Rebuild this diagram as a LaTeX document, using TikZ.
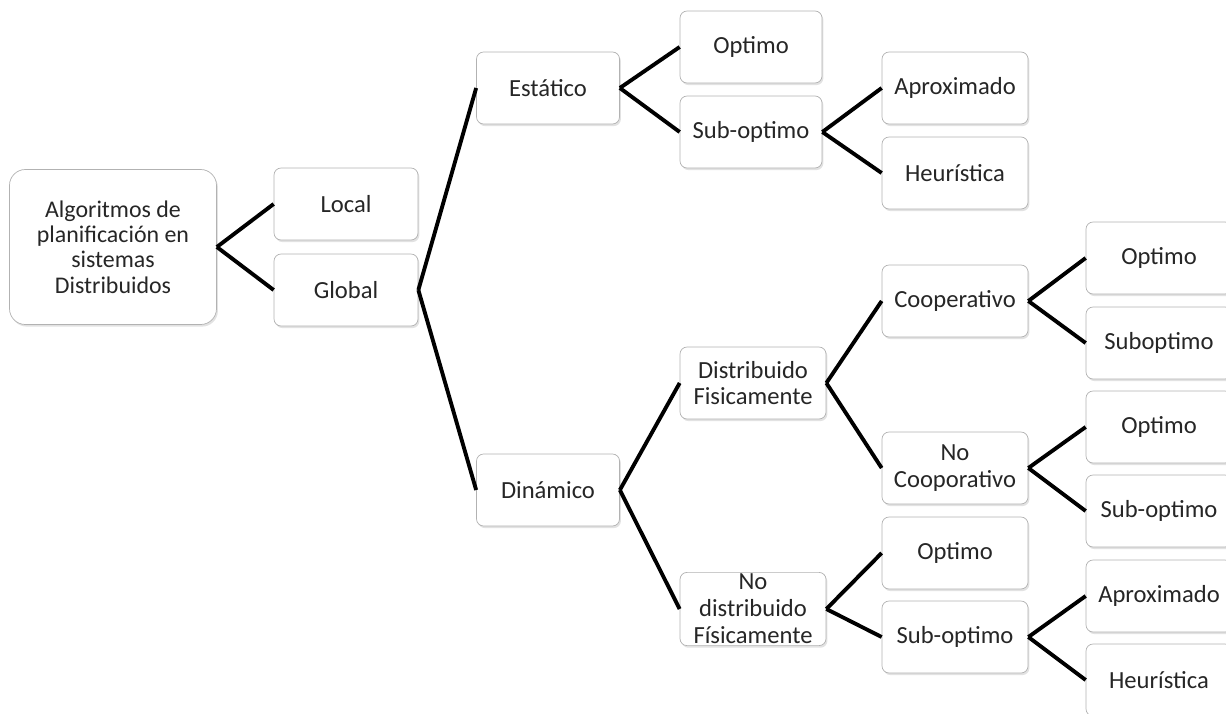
\documentclass[tikz,border=0pt]{standalone}
\usepackage{fontspec}
\setmainfont{Carlito}
\usetikzlibrary{shadows}

\tikzset{
  caja/.style={draw=gray!60, fill=white, rounded corners=4pt, align=center,
    minimum width=2.92cm, minimum height=1.44cm, inner sep=1pt, text=black!85,
    font=\fontsize{14}{15.3}\selectfont,
    drop shadow={shadow xshift=0.8pt, shadow yshift=-1.2pt, fill=gray!45}},
  rama/.style={line width=2.2pt, line join=miter}
}

\begin{document}
\begin{tikzpicture}
\useasboundingbox (0,0) rectangle (24.52,-14.26);

\node[caja, minimum width=4.14cm, minimum height=3.1cm, rounded corners=9pt,
  font=\fontsize{13.6}{14.4}\selectfont] (raiz) at (2.26,-4.94)
  {Algoritmos de\\planificación en\\sistemas\\Distribuidos};
\node[caja, minimum width=2.88cm] (local) at (6.92,-4.08) {Local};
\node[caja, minimum width=2.88cm] (global) at (6.92,-5.8) {Global};

\node[caja, minimum width=2.86cm] (estatico) at (10.96,-1.76) {Estático};
\node[caja, minimum width=2.86cm] (dinamico) at (10.96,-9.8) {Dinámico};

% rama estatica
\node[caja, minimum width=2.84cm] (optE) at (15.02,-0.94) {Optimo};
\node[caja, minimum width=2.84cm] (subE) at (15.02,-2.64) {Sub-optimo};
\node[caja] (aproxE) at (19.1,-1.76) {Aproximado};
\node[caja] (heurE) at (19.1,-3.46) {Heurística};

% rama dinamica
\node[caja] (distrib) at (15.06,-7.66) {Distribuido\\Fisicamente};
\node[caja] (nodistrib) at (15.06,-12.18) {No\\distribuido\\Físicamente};
\node[caja] (coop) at (19.1,-6.02) {Cooperativo};
\node[caja] (nocoop) at (19.1,-9.36) {No\\Cooporativo};
\node[caja] (optN) at (19.1,-11.06) {Optimo};
\node[caja] (subN) at (19.1,-12.74) {Sub-optimo};

\node[caja] (optC) at (23.18,-5.16) {Optimo};
\node[caja] (subC) at (23.18,-6.86) {Suboptimo};
\node[caja] (optNC) at (23.18,-8.54) {Optimo};
\node[caja] (subNC) at (23.18,-10.22) {Sub-optimo};
\node[caja] (aproxN) at (23.18,-11.92) {Aproximado};
\node[caja] (heurN) at (23.18,-13.6) {Heurística};

\foreach \a/\b in {raiz/local, raiz/global, global/estatico, global/dinamico,
  estatico/optE, estatico/subE, subE/aproxE, subE/heurE,
  dinamico/distrib, dinamico/nodistrib, distrib/coop, distrib/nocoop,
  coop/optC, coop/subC, nocoop/optNC, nocoop/subNC,
  nodistrib/optN, nodistrib/subN, subN/aproxN, subN/heurN}
  \draw[rama] (\a.east) -- (\b.west);

\end{tikzpicture}
\end{document}
